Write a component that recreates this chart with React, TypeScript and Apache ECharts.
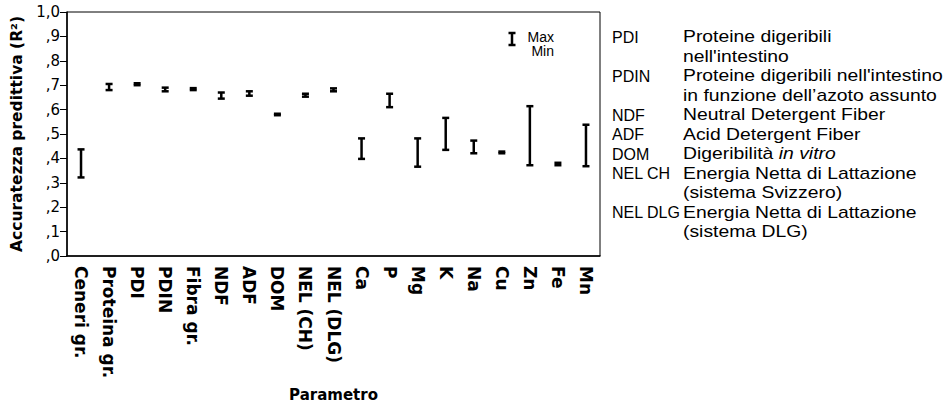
import React, { useEffect, useRef } from "react";
import * as echarts from "echarts";

const categories = ["Ceneri gr.", "Proteina gr.", "PDI", "PDIN", "Fibra gr.", "NDF", "ADF", "DOM", "NEL (CH)", "NEL (DLG)", "Ca", "P", "Mg", "K", "Na", "Cu", "Zn", "Fe", "Mn"];
const minValues = [0.322, 0.68, 0.7, 0.675, 0.68, 0.645, 0.657, 0.577, 0.653, 0.675, 0.398, 0.61, 0.366, 0.435, 0.421, 0.421, 0.372, 0.372, 0.368];
const maxValues = [0.437, 0.705, 0.708, 0.69, 0.688, 0.67, 0.675, 0.583, 0.665, 0.687, 0.482, 0.665, 0.482, 0.566, 0.473, 0.428, 0.614, 0.382, 0.538];
const glossaryAbbr = ["PDI", "", "PDIN", "", "NDF", "ADF", "DOM", "NEL CH", "", "NEL DLG", ""];
const glossaryText = [
  "Proteine digeribili",
  "nell'intestino",
  "Proteine digeribili nell'intestino",
  "in funzione dell\u2019azoto assunto",
  "Neutral Detergent Fiber",
  "Acid Detergent Fiber",
  "Digeribilit\u00e0 {i|in vitro}",
  "Energia Netta di Lattazione",
  "(sistema Svizzero)",
  "Energia Netta di Lattazione",
  "(sistema DLG)",
];

const FONT = "'DejaVu Sans', 'Liberation Sans', Arial, sans-serif";
const AFONT = "'Liberation Sans', Arial, Helvetica, sans-serif";

export default function App() {
  const ref = useRef<HTMLDivElement>(null);
  useEffect(() => {
    if (!ref.current) return;
    const chart = echarts.init(ref.current, null, { renderer: "svg" });
    const data = categories.map((c, i) => [i, minValues[i], maxValues[i]]);
    const glossary: any[] = [];
    glossaryText.forEach((t, i) => {
      const y = 37 + i * 19.5;
      if (glossaryAbbr[i]) {
        glossary.push({
          type: "text",
          x: 612,
          y,
          style: { text: glossaryAbbr[i], font: `16px ${AFONT}`, fill: "#000", verticalAlign: "middle", align: "left" },
        });
      }
      glossary.push({
        type: "text",
        x: 683,
        y,
        scaleX: 1.21,
        style: {
          text: t,
          font: `16px ${AFONT}`,
          fill: "#000",
          verticalAlign: "middle",
          align: "left",
          rich: { i: { fontStyle: "italic", fontSize: 16, fontFamily: AFONT, verticalAlign: "middle" } },
        },
      });
    });
    const option: any = {
      animation: false,
      backgroundColor: "#fff",
      textStyle: { fontFamily: FONT, color: "#000" },
      grid: {
        left: 67,
        right: 351,
        top: 12,
        bottom: 148,
        show: true,
        borderColor: "#000",
        borderWidth: 1,
        containLabel: false,
        outerBoundsMode: "none",
      },
      xAxis: {
        type: "category",
        data: categories,
        boundaryGap: true,
        name: "Parametro",
        nameLocation: "middle",
        nameGap: 131,
        nameTextStyle: { fontWeight: "bold", fontSize: 15, color: "#000", fontFamily: FONT },
        axisLine: { lineStyle: { color: "#000", width: 1.5 } },
        axisTick: { alignWithLabel: true, length: 7, lineStyle: { color: "#000" } },
        axisLabel: { rotate: -90, margin: 10, fontWeight: "bold", fontSize: 17, color: "#000", fontFamily: FONT, interval: 0 },
        splitLine: { show: false },
      },
      yAxis: {
        type: "value",
        min: 0,
        max: 1,
        interval: 0.1,
        name: "Accuratezza predittiva (R\u00b2)",
        nameLocation: "middle",
        nameGap: 40,
        nameTextStyle: { fontWeight: "bold", fontSize: 15.5, color: "#000", fontFamily: FONT },
        axisLine: { show: true, lineStyle: { color: "#000", width: 1.5 } },
        axisTick: { show: true, length: 7, lineStyle: { color: "#000" } },
        axisLabel: {
          fontSize: 15,
          color: "#000",
          margin: 7,
          fontFamily: FONT,
          formatter: (v: number) => (v >= 1 ? "1,0" : "," + Math.round(v * 10)),
        },
        splitLine: { show: false },
      },
      series: [
        {
          type: "custom",
          data,
          renderItem: (params: any, api: any) => {
            const idx = api.value(0);
            const lo = api.coord([idx, api.value(1)]);
            const hi = api.coord([idx, api.value(2)]);
            const x = lo[0];
            const hw = 3.5;
            const style = { stroke: "#000", lineWidth: 2.5 };
            return {
              type: "group",
              children: [
                { type: "line", shape: { x1: x, y1: lo[1], x2: x, y2: hi[1] }, style },
                { type: "line", shape: { x1: x - hw, y1: lo[1], x2: x + hw, y2: lo[1] }, style },
                { type: "line", shape: { x1: x - hw, y1: hi[1], x2: x + hw, y2: hi[1] }, style },
              ],
            };
          },
        },
      ],
      graphic: [
        { type: "line", shape: { x1: 512, y1: 33, x2: 512, y2: 45 }, style: { stroke: "#000", lineWidth: 2.5 } },
        { type: "line", shape: { x1: 508.5, y1: 33, x2: 515.5, y2: 33 }, style: { stroke: "#000", lineWidth: 2.5 } },
        { type: "line", shape: { x1: 508.5, y1: 45, x2: 515.5, y2: 45 }, style: { stroke: "#000", lineWidth: 2.5 } },
        {
          type: "text",
          x: 554,
          y: 44,
          style: { text: "Max\nMin", font: `14px ${AFONT}`, lineHeight: 14.5, fill: "#000", align: "right", verticalAlign: "middle" },
        },
        ...glossary,
      ],
    };
    chart.setOption(option);
    return () => chart.dispose();
  }, []);
  return <div ref={ref} style={{ position: "fixed", left: 0, top: 0, width: 951, height: 404 }} />;
}
